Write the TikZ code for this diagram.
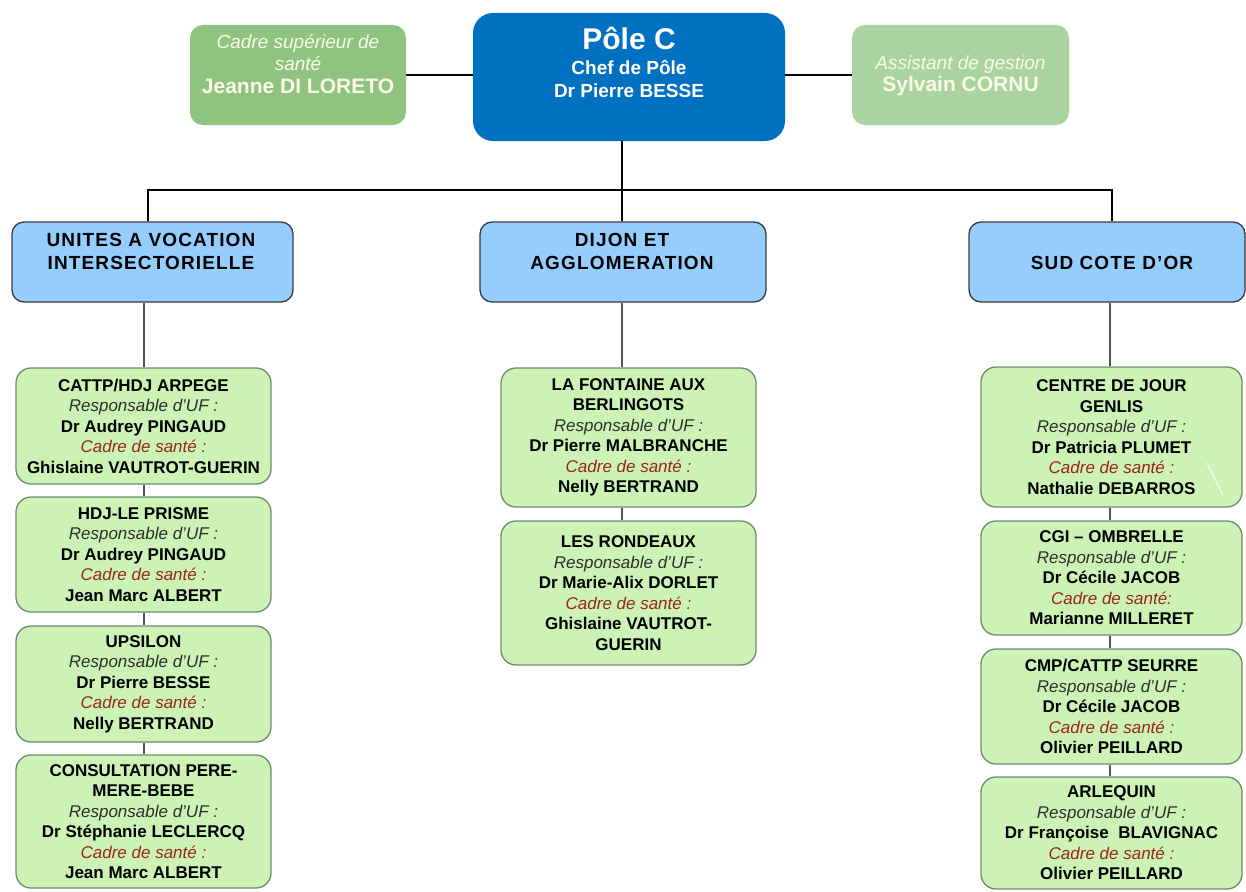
\documentclass[tikz,border=0pt]{standalone}
\usepackage{fontspec}
\setmainfont{Liberation Sans}
\definecolor{poleblue}{HTML}{0070C0}
\definecolor{sidegreen}{HTML}{8FC380}
\definecolor{sidegreenlt}{HTML}{A9D3A0}
\definecolor{sidetext}{HTML}{FBFBE8}
\definecolor{secblue}{HTML}{95CDFE}
\definecolor{secedge}{HTML}{3A3A3A}
\definecolor{ufgreen}{HTML}{CCF3B5}
\definecolor{ufedge}{HTML}{6F8A6F}
\definecolor{resptext}{HTML}{2E2E2E}
\definecolor{cadretext}{HTML}{9A2424}
\definecolor{linkgray}{HTML}{555555}
\newcommand\ufresp[1]{{\mdseries\itshape\color{resptext}#1}}
\newcommand\ufcadre[1]{{\mdseries\itshape\color{cadretext}#1}}
\newcommand\sidename[1]{{\bfseries\fontsize{21}{22.5}\selectfont #1}}
\begin{document}
\begin{tikzpicture}[x=1pt,y=-1pt,
  sidebox/.style={rounded corners=13pt, inner sep=0pt, minimum height=100pt},
  sidetxt/.style={align=center, inner sep=0pt, text=sidetext, font=\fontsize{19}{22.5}\selectfont},
  polebox/.style={fill=poleblue, rounded corners=20pt, inner sep=0pt, minimum width=312pt, minimum height=128pt},
  poletxt/.style={align=center, inner sep=0pt, text=white, font=\bfseries\fontsize{19}{23}\selectfont},
  secbox/.style={fill=secblue, draw=secedge, line width=1.3pt, rounded corners=12pt, inner sep=0pt, minimum height=80pt},
  sectxt/.style={align=center, inner sep=0pt, font=\bfseries\fontsize{19}{23}\selectfont\addfontfeature{LetterSpace=6}},
  ufbox/.style={fill=ufgreen, draw=ufedge, line width=1.3pt, rounded corners=15pt, inner sep=0pt, align=center,
    font=\bfseries\fontsize{17}{20.5}\selectfont},
  toplink/.style={draw=black, line width=1.3pt},
  link/.style={draw=linkgray, line width=1.4pt},
]
\useasboundingbox (0,0) rectangle (1246,891);

% ---- top row ----
\node[polebox] (pole) at (629,77) {};
\node[poletxt, anchor=north] (poletitle) at (629,27)
  {{\fontsize{30}{30}\selectfont Pôle C}\\[1.5pt]Chef de Pôle\\Dr Pierre BESSE};

\node[sidebox, fill=sidegreen, minimum width=216pt] (cadre) at (298,75) {};
\node[sidetxt] (cadretxt) at (298,64)
  {\itshape Cadre supérieur de\\\itshape santé\\\sidename{Jeanne DI LORETO}};

\node[sidebox, fill=sidegreenlt, minimum width=217pt] (assist) at (960.5,75) {};
\node[sidetxt] (assisttxt) at (960.5,76)
  {\itshape Assistant de gestion\\\sidename{Sylvain CORNU}};

\draw[toplink] (cadre.east) -- (cadre.east -| pole.west);
\draw[toplink] (assist.west) -- (assist.west -| pole.east);

% ---- sector boxes ----
\node[secbox, minimum width=281pt] (unites) at (152.5,262) {};
\node[sectxt] (unitestxt) at (151,251) {UNITES A VOCATION\\INTERSECTORIELLE};
\node[secbox, minimum width=286pt] (dijon) at (623,262) {};
\node[sectxt] (dijontxt) at (622,251) {DIJON ET\\AGGLOMERATION};
\node[secbox, minimum width=276pt] (sud) at (1107,262) {};
\node[sectxt] (sudtxt) at (1112,263) {SUD COTE D’OR};

% bus from the pole head to the three sectors
\coordinate (bus) at (622,190);
\coordinate (busL) at (148,190);
\coordinate (busR) at (1112,190);
\draw[toplink] (pole.south -| bus) -- (bus);
\draw[toplink] (busL |- unites.north) -- (busL) -- (busR) -- (busR |- sud.north);
\draw[toplink] (bus) -- (bus |- dijon.north);

% ---- left column ----
\coordinate (colL) at (144,0);
\node[ufbox, minimum width=255pt, minimum height=116pt] (arpege) at (143.5,426)
  {CATTP/HDJ ARPEGE\\\ufresp{Responsable d’UF :}\\Dr Audrey PINGAUD\\\ufcadre{Cadre de santé :}\\Ghislaine VAUTROT-GUERIN};
\node[ufbox, minimum width=255pt, minimum height=115pt] (prisme) at (143.5,554.5)
  {HDJ-LE PRISME\\\ufresp{Responsable d’UF :}\\Dr Audrey PINGAUD\\\ufcadre{Cadre de santé :}\\Jean Marc ALBERT};
\node[ufbox, minimum width=255pt, minimum height=116pt] (upsilon) at (143.5,684)
  {UPSILON\\\ufresp{Responsable d’UF :}\\Dr Pierre BESSE\\\ufcadre{Cadre de santé :}\\Nelly BERTRAND};
\node[ufbox, minimum width=255pt, minimum height=133pt] (consult) at (143.5,821.5)
  {CONSULTATION PERE-\\MERE-BEBE\\\ufresp{Responsable d’UF :}\\Dr Stéphanie LECLERCQ\\\ufcadre{Cadre de santé :}\\Jean Marc ALBERT};
\draw[link] (unites.south -| colL) -- (arpege.north -| colL);
\draw[link] (arpege.south -| colL) -- (prisme.north -| colL);
\draw[link] (prisme.south -| colL) -- (upsilon.north -| colL);
\draw[link] (upsilon.south -| colL) -- (consult.north -| colL);

% ---- middle column ----
\coordinate (colM) at (622,0);
\node[ufbox, minimum width=255pt, minimum height=139pt] (fontaine) at (628.5,437.5)
  {LA FONTAINE AUX\\BERLINGOTS\\\ufresp{Responsable d’UF :}\\Dr Pierre MALBRANCHE\\\ufcadre{Cadre de santé :}\\Nelly BERTRAND};
\node[ufbox, minimum width=255pt, minimum height=144pt] (rondeaux) at (628.5,593)
  {LES RONDEAUX\\\ufresp{Responsable d’UF :}\\Dr Marie-Alix DORLET\\\ufcadre{Cadre de santé :}\\Ghislaine VAUTROT-\\GUERIN};
\draw[link] (dijon.south -| colM) -- (fontaine.north -| colM);
\draw[link] (fontaine.south -| colM) -- (rondeaux.north -| colM);

% ---- right column ----
\coordinate (colR) at (1110,0);
\node[ufbox, minimum width=261pt, minimum height=140pt] (genlis) at (1111.5,437)
  {CENTRE DE JOUR\\GENLIS\\\ufresp{Responsable d’UF :}\\Dr Patricia PLUMET\\\ufcadre{Cadre de santé :}\\Nathalie DEBARROS};
\node[ufbox, minimum width=261pt, minimum height=114pt] (cgi) at (1111.5,578)
  {CGI – OMBRELLE\\\ufresp{Responsable d’UF :}\\Dr Cécile JACOB\\\ufcadre{Cadre de santé:}\\Marianne MILLERET};
\node[ufbox, minimum width=261pt, minimum height=115pt] (seurre) at (1111.5,706.5)
  {CMP/CATTP SEURRE\\\ufresp{Responsable d’UF :}\\Dr Cécile JACOB\\\ufcadre{Cadre de santé :}\\Olivier PEILLARD};
\node[ufbox, minimum width=261pt, minimum height=112pt] (arlequin) at (1111.5,833)
  {ARLEQUIN\\\ufresp{Responsable d’UF :}\\Dr Françoise\ \ BLAVIGNAC\\\ufcadre{Cadre de santé :}\\Olivier PEILLARD};
\draw[link] (sud.south -| colR) -- (genlis.north -| colR);
\draw[link] (genlis.south -| colR) -- (cgi.north -| colR);
\draw[link] (cgi.south -| colR) -- (seurre.north -| colR);
\draw[link] (seurre.south -| colR) -- (arlequin.north -| colR);

% thin white stroke inside the Genlis box
\draw[white, line width=0.9pt] (1207,463) -- (1223,495);
\end{tikzpicture}
\end{document}
